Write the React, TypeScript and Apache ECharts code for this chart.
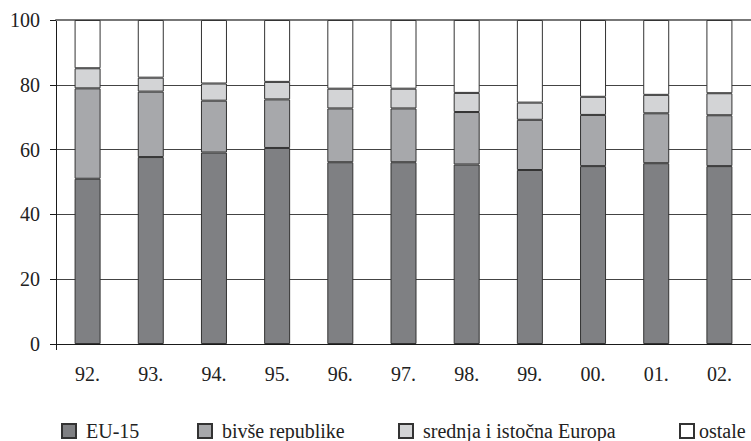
import React, { useEffect, useRef } from "react";
import * as echarts from "echarts";

const categories = ["92.", "93.", "94.", "95.", "96.", "97.", "98.", "99.", "00.", "01.", "02."];
const eu15 = [51.0, 57.7, 59.1, 60.5, 56.1, 56.1, 55.4, 53.7, 54.9, 55.8, 54.9];
const bivse = [27.9, 20.2, 16.0, 15.0, 16.6, 16.6, 16.2, 15.5, 15.8, 15.4, 15.7];
const srednja = [6.2, 4.3, 5.3, 5.4, 6.1, 6.1, 5.9, 5.3, 5.6, 5.7, 6.8];
const ostale = [14.9, 17.8, 19.6, 19.1, 21.2, 21.2, 22.5, 25.5, 23.7, 23.1, 22.6];
const yTicks = [0, 20, 40, 60, 80, 100];

const seriesNames = ["EU-15", "bivše republike", "srednja i istočna Europa", "ostale"];
const seriesData = [eu15, bivse, srednja, ostale];
const seriesColors = ["#7f8083", "#a7a8ab", "#d3d4d6", "#ffffff"];

const FONT = "Liberation Serif";

export default function App() {
  const ref = useRef<HTMLDivElement>(null);
  useEffect(() => {
    if (!ref.current) return;
    const chart = echarts.init(ref.current, null, { renderer: "svg" });
    const legendLefts = [61, 197, 398, 679];
    const legendPad = [5, 5, 5, 0];
    chart.setOption({
      animation: false,
      backgroundColor: "#ffffff",
      grid: { left: 56, top: 20, right: -6, bottom: 97, containLabel: false },
      legend: seriesNames.map((n, i) => ({
        data: [n],
        left: legendLefts[i],
        top: 421,
        padding: 0,
        itemWidth: 14,
        itemHeight: 14,
        icon: "rect",
        selectedMode: false,
        textStyle: {
          fontFamily: FONT,
          fontSize: 20,
          color: "#222",
          padding: [0, 0, 0, legendPad[i]],
        },
      })),
      xAxis: [
        {
          type: "category",
          data: categories,
          boundaryGap: true,
          axisLine: { lineStyle: { color: "#1a1a1a", width: 1 } },
          axisTick: { show: true, interval: (i: number) => i === 0, length: 6, lineStyle: { color: "#1a1a1a" } },
          axisLabel: { fontFamily: FONT, fontSize: 20, color: "#222", margin: 20, interval: 0 },
          splitLine: { show: false },
        },
        {
          type: "category",
          data: categories,
          position: "top",
          axisLine: { show: true, lineStyle: { color: "#777", width: 2 } },
          axisTick: { show: false },
          axisLabel: { show: false },
          splitLine: { show: false },
        },
      ],
      yAxis: {
        type: "value",
        min: yTicks[0],
        max: yTicks[yTicks.length - 1],
        interval: 20,
        axisLine: { show: true, lineStyle: { color: "#1a1a1a", width: 1 } },
        axisTick: { show: true, length: 6, lineStyle: { color: "#1a1a1a" } },
        axisLabel: { fontFamily: FONT, fontSize: 20, color: "#222", margin: 16 },
        splitLine: { show: true, lineStyle: { color: "#444", width: 1 } },
      },
      series: seriesNames.map((n, i) => ({
        name: n,
        type: "bar",
        stack: "total",
        barWidth: 26,
        data: seriesData[i],
        itemStyle: { color: seriesColors[i], borderColor: "#333", borderWidth: 1 },
        emphasis: { disabled: true },
      })),
    });
    return () => chart.dispose();
  }, []);
  return (
    <div
      ref={ref}
      style={{ position: "fixed", left: 0, top: 0, width: 751, height: 441 }}
    />
  );
}
